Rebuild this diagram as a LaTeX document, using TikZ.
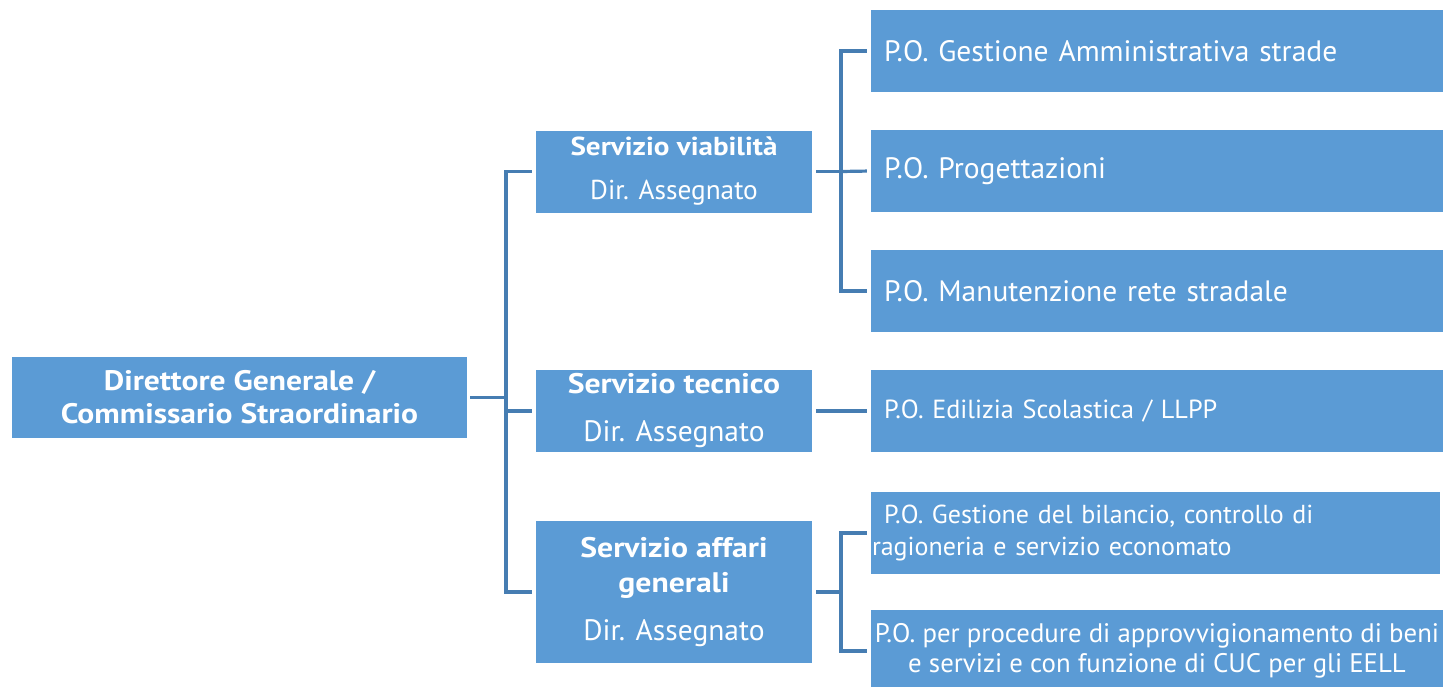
\documentclass[tikz,border=0pt]{standalone}
\usepackage{fontspec}
\setmainfont{PT Sans}
\newfontfamily\bwide[FakeStretch=1.12]{PT Sans}
\definecolor{boxblue}{RGB}{91,155,213}
\definecolor{lineblue}{RGB}{70,125,178}
\newcommand{\fs}[2]{\fontsize{#1}{#2}\selectfont}
\newcommand{\bw}[1]{{\bwide\bfseries #1}}
\begin{document}
\begin{tikzpicture}[x=1pt,y=-1pt,
  box/.style={fill=boxblue,draw=none,text=white,inner sep=0pt,align=center},
  pobox/.style={box,minimum width=572pt,minimum height=82pt,text width=546pt,align=left},
  conn/.style={draw=lineblue,line width=3.2pt},
  ]
\useasboundingbox (0,0) rectangle (1443,686);
% left
\node[box,minimum width=455pt,minimum height=81pt,font=\fs{28.2}{33}] (dg) at (239.5,397.5)
  {\bw{Direttore Generale /}\\\bw{Commissario Straordinario}};
% middle
\node[box,minimum width=276pt,minimum height=82pt,font=\fs{26}{44}] (sv) at (674,171.5)
  {\bw{Servizio viabilità}\\\fontsize{27.3}{44}\selectfont Dir. Assegnato};
\node[box,minimum width=276pt,minimum height=82pt,font=\fs{28.3}{48}] (st) at (674,411)
  {\bw{Servizio tecnico}\\\fontsize{29.5}{48}\selectfont Dir. Assegnato};
\node[box,minimum width=276pt,minimum height=142pt,font=\fs{28.3}{35}] (sa) at (674,592)
  {\bw{Servizio affari}\\\bw{generali}\\[13pt]\fontsize{29.5}{35}\selectfont Dir. Assegnato};
% right
\node[pobox,font=\fs{29.5}{30}] (p1) at (1157,51)
  {P.O. Gestione Amministrativa strade};
\node[pobox,font=\fs{29.5}{30}] (p2) at (1157,171)
  {P.O. Progettazioni};
\node[pobox,font=\fs{29.5}{30}] (p3) at (1157,291)
  {P.O. Manutenzione rete stradale};
\node[pobox,font=\fs{26.2}{30}] (p4) at (1157,411)
  {P.O. Edilizia Scolastica / LLPP};
\node[box,minimum width=569pt,minimum height=82pt,font=\fs{26}{32},text width=567pt,align=left] (p5) at (1155.5,533)
  {\hspace*{12pt}P.O. Gestione del bilancio, controllo di\\ragioneria e servizio economato};
\node[box,minimum width=572pt,minimum height=82pt,font=\fs{26.8}{30}] (p6) at (1157,651)
  {P.O. per procedure di approvvigionamento di beni\\e servizi e con funzione di CUC per gli EELL};
% bus coordinates
\coordinate (b1) at (506,397.5);
\coordinate (b2) at (841,171.5);
\coordinate (b3) at (841,592);
% connectors
\draw[conn,shorten <=3pt] (dg.east) -- (b1);
\draw[conn,shorten <=4pt,shorten >=4pt] (sv.west) -| (b1) |- (sa.west);
\draw[conn,shorten >=4pt] (b1) |- (st.west);
\draw[conn,shorten <=4pt] (sv.east) -- (b2);
\draw[conn,shorten <=4pt,shorten >=4pt] (p1.west) -| (b2) |- (p3.west);
\draw[conn,shorten >=4pt] (b2) -- (p2.west);
\draw[conn,shorten <=4pt,shorten >=4pt] (st.east) -- (p4.west);
\draw[conn,shorten <=4pt] (sa.east) -- (b3);
\draw[conn,shorten <=4pt,shorten >=4pt] (p5.west) -| (b3) |- (p6.west);
\end{tikzpicture}
\end{document}
